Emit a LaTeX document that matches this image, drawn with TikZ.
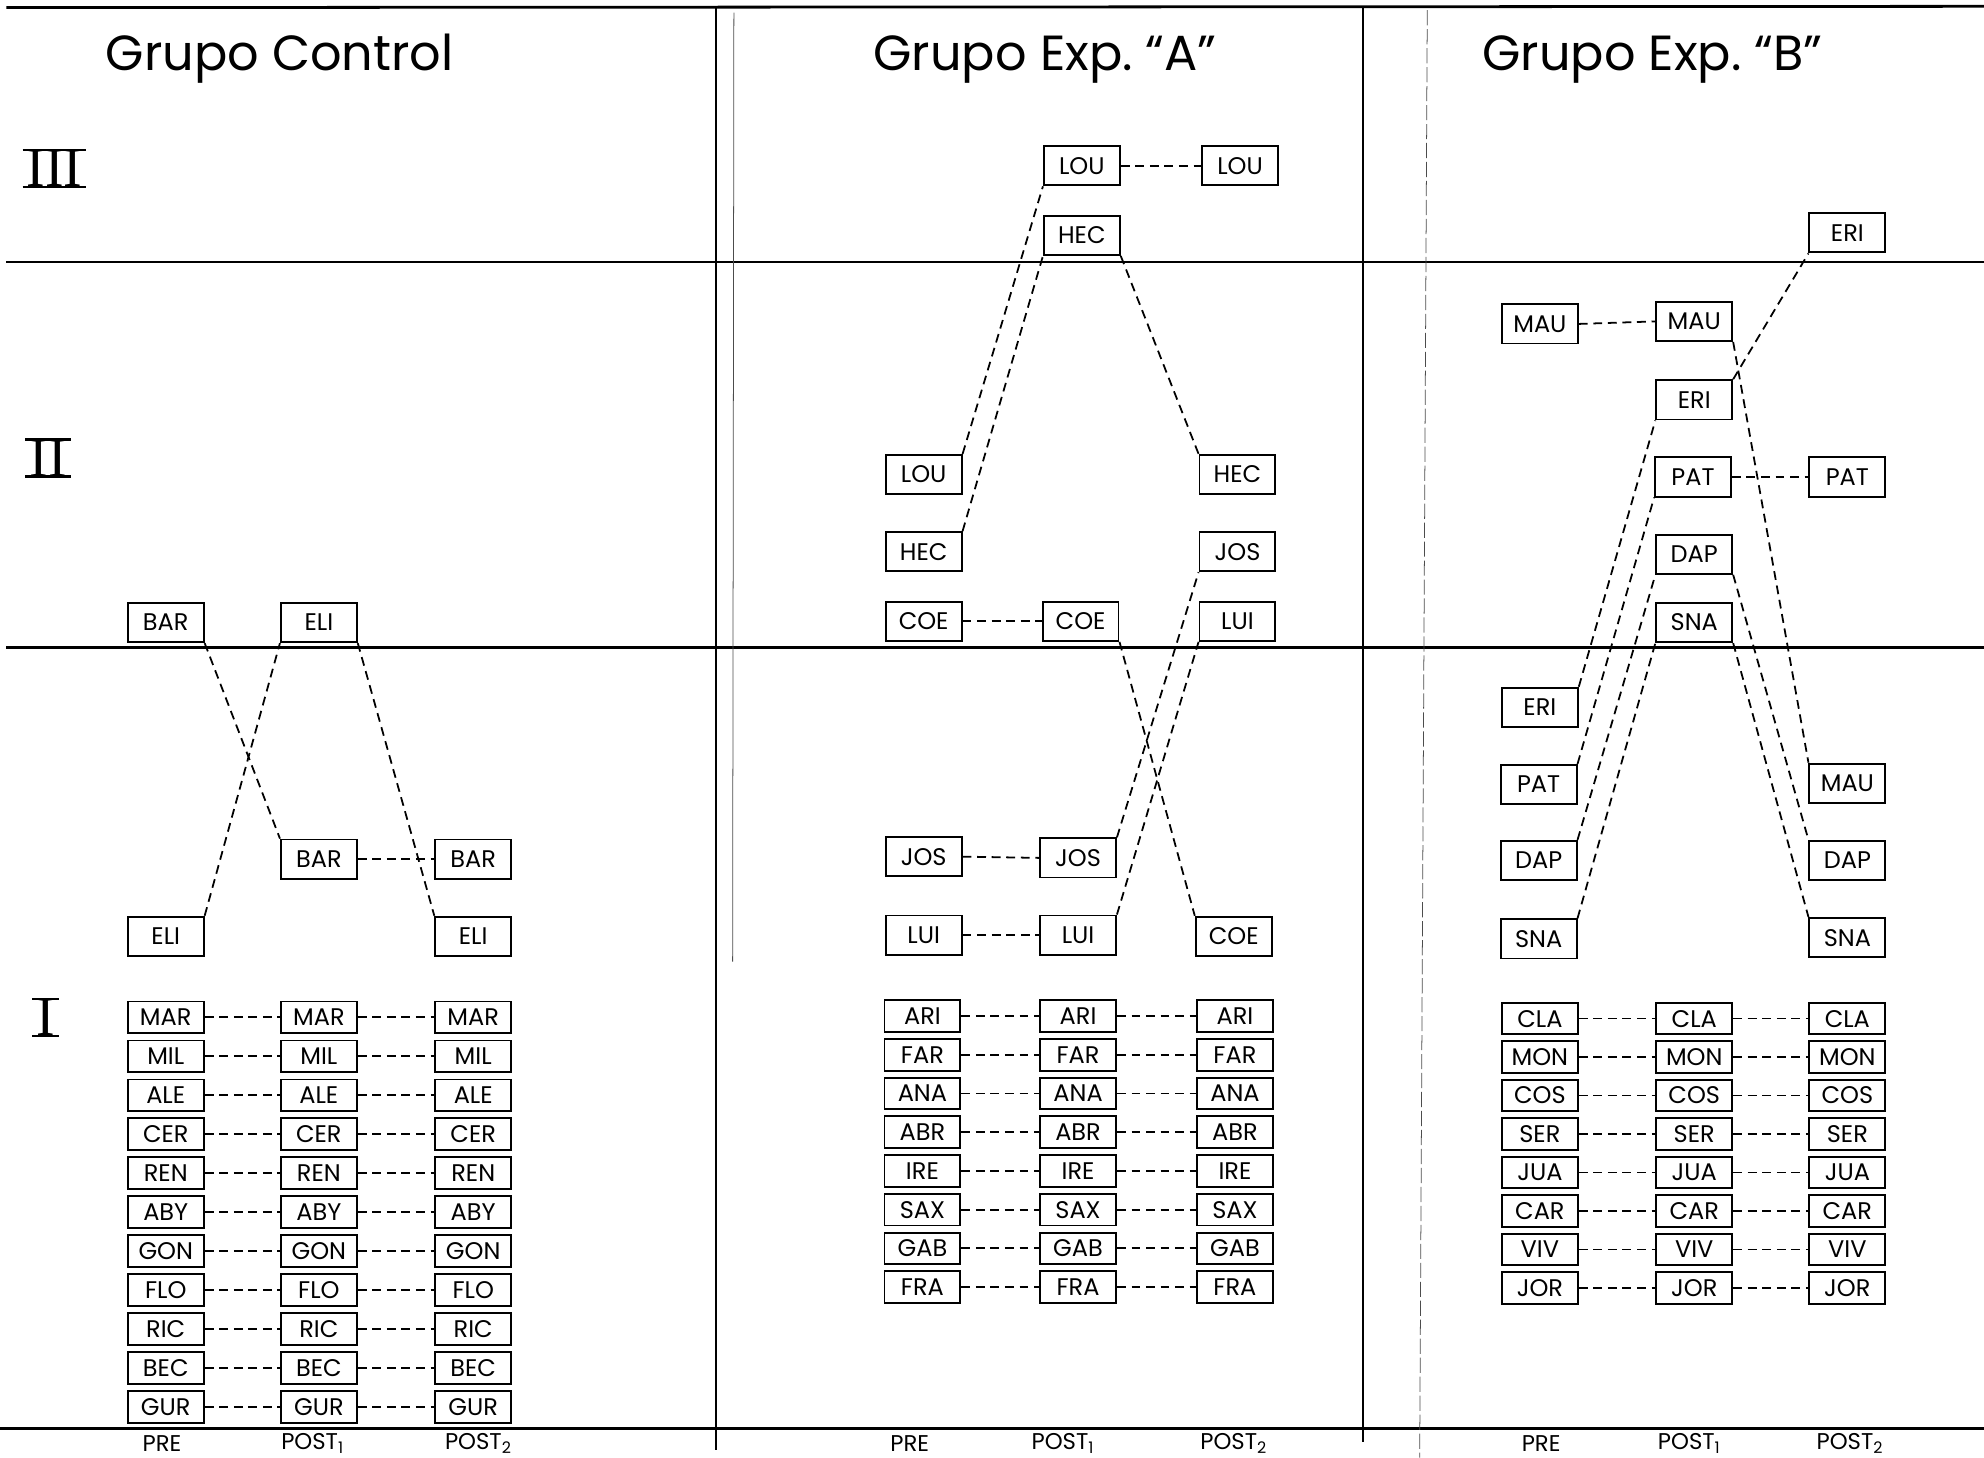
\documentclass[tikz,border=0pt]{standalone}
\usepackage{fontspec}
\setmainfont{Poppins}
\newfontfamily\numfont{Liberation Serif}
\begin{document}
\begin{tikzpicture}[x=1pt,y=-1pt,
  bx/.style={draw, line width=1.5pt, minimum width=60pt, minimum height=31pt, inner sep=0pt, font=\fontsize{19}{19}\selectfont},
  lbx/.style={bx, minimum height=25pt},
  con/.style={line width=1.4pt, dash pattern=on 7pt off 4.5pt},
  rulebold/.style={line width=2.2pt},
  rulethin/.style={line width=0.6pt, black!70},
  title/.style={font=\fontsize{39}{39}\selectfont, anchor=base},
  colhead/.style={font=\fontsize{18}{18}\selectfont},
  roman/.style={font=\numfont\fontsize{44}{44}\selectfont, inner sep=0pt, text depth=0pt}]
\useasboundingbox (0,0) rectangle (1568,1152);

% frame lines
\draw[rulebold] (5,6) -- (1568,5);
\draw[rulebold] (5,207) -- (1568,207);
\draw[rulebold] (5,512) -- (1568,512);
\draw[rulebold] (0,1129) -- (1568,1129);
\draw[line width=1.6pt] (566,6) -- (566,1146);
\draw[line width=1.6pt] (1077,5) -- (1077,1140);
\draw[rulethin] (580,10) -- (579,760);
\draw[rulethin, dash pattern=on 12pt off 3pt] (1128,8) -- (1122,1152);

% titles
\node[title] (t1) at (221,56) {Grupo Control};
\node[title] (t2) at (826,56) {Grupo Exp.~``A''};
\node[title] (t3) at (1306,56) {Grupo Exp.~``B''};

% roman numerals
\node[roman] (r3) at (43,133) {III};
\node[roman] (r2) at (38,362) {II};
\node[roman] (r1) at (36,804) {I};
\foreach \r in {r3,r2,r1} {
  \draw[line width=2pt] ([xshift=-3pt]\r.north west) -- ([xshift=3pt]\r.north east);
  \draw[line width=2pt] ([xshift=-3pt]\r.south west) -- ([xshift=3pt]\r.south east);
}

% column headings
\foreach \g/\a/\b/\c in {c/128/247/378, a/719/840/975, b/1218/1335/1462} {
  \node[colhead] (\g hpre) at (\a,1141) {PRE};
  \node[colhead] (\g hp1) at (\b,1141) {POST\textsubscript{1}};
  \node[colhead] (\g hp2) at (\c,1141) {POST\textsubscript{2}};
}

% ---------- Grupo Control ----------
\node[bx] (cBARpre) at (131,492) {BAR};
\node[bx] (cELIp1)  at (252,492) {ELI};
\node[bx] (cBARp1)  at (252,679) {BAR};
\node[bx] (cBARp2)  at (374,679) {BAR};
\node[bx] (cELIpre) at (131,740) {ELI};
\node[bx] (cELIp2)  at (374,740) {ELI};
\draw[con] (cBARpre.south east) -- (cBARp1.north west);
\draw[con] (cELIpre.north east) -- (cELIp1.south west);
\draw[con] (cELIp1.south east) -- (cELIp2.north west);
\draw[con] (cBARp1.east) -- (cBARp2.west);

\foreach \n [count=\i] in {MAR,MIL,ALE,CER,REN,ABY,GON,FLO,RIC,BEC,GUR} {
  \pgfmathsetmacro{\yy}{804+30.8*(\i-1)}
  \node[lbx] (c\n pre) at (131,\yy) {\n};
  \node[lbx] (c\n p1) at (252,\yy) {\n};
  \node[lbx] (c\n p2) at (374,\yy) {\n};
  \draw[con] (c\n pre.east) -- (c\n p1.west);
  \draw[con] (c\n p1.east) -- (c\n p2.west);
}

% ---------- Grupo Exp. A ----------
\node[bx] (aLOUp1)  at (855,131) {LOU};
\node[bx] (aLOUp2)  at (980,131) {LOU};
\node[bx] (aHECp1)  at (855,186) {HEC};
\node[bx] (aLOUpre) at (730,375) {LOU};
\node[bx] (aHECp2)  at (978,375) {HEC};
\node[bx] (aHECpre) at (730,436) {HEC};
\node[bx] (aJOSp2)  at (978,436) {JOS};
\node[bx] (aCOEpre) at (730,491) {COE};
\node[bx] (aCOEp1)  at (854,491) {COE};
\node[bx] (aLUIp2)  at (978,491) {LUI};
\node[bx] (aJOSpre) at (730,677) {JOS};
\node[bx] (aJOSp1)  at (852,678) {JOS};
\node[bx] (aLUIpre) at (730,739) {LUI};
\node[bx] (aLUIp1)  at (852,739) {LUI};
\node[bx] (aCOEp2)  at (975,740) {COE};
\draw[con] (aLOUpre.north east) -- (aLOUp1.south west);
\draw[con] (aHECpre.north east) -- (aHECp1.south west);
\draw[con] (aHECp1.south east) -- (aHECp2.north west);
\draw[con] (aLOUp1.east) -- (aLOUp2.west);
\draw[con] (aCOEpre.east) -- (aCOEp1.west);
\draw[con] (aCOEp1.south east) -- (aCOEp2.north west);
\draw[con] (aJOSpre.east) -- (aJOSp1.west);
\draw[con] (aJOSp1.north east) -- (aJOSp2.south west);
\draw[con] (aLUIpre.east) -- (aLUIp1.west);
\draw[con] (aLUIp1.north east) -- (aLUIp2.south west);

\foreach \n [count=\i] in {ARI,FAR,ANA,ABR,IRE,SAX,GAB,FRA} {
  \pgfmathsetmacro{\yy}{803+30.6*(\i-1)}
  \node[lbx] (a\n pre) at (729,\yy) {\n};
  \node[lbx] (a\n p1) at (852,\yy) {\n};
  \node[lbx] (a\n p2) at (976,\yy) {\n};
  \draw[con] (a\n pre.east) -- (a\n p1.west);
  \draw[con] (a\n p1.east) -- (a\n p2.west);
}

% ---------- Grupo Exp. B ----------
\node[bx] (bERIp2)  at (1460,184) {ERI};
\node[bx] (bMAUpre) at (1217,256) {MAU};
\node[bx] (bMAUp1)  at (1339,254) {MAU};
\node[bx] (bERIp1)  at (1339,316) {ERI};
\node[bx] (bPATp1)  at (1338,377) {PAT};
\node[bx] (bPATp2)  at (1460,377) {PAT};
\node[bx] (bDAPp1)  at (1339,438) {DAP};
\node[bx] (bSNAp1)  at (1339,492) {SNA};
\node[bx] (bERIpre) at (1217,559) {ERI};
\node[bx] (bPATpre) at (1216,620) {PAT};
\node[bx] (bMAUp2)  at (1460,619) {MAU};
\node[bx] (bDAPpre) at (1216,680) {DAP};
\node[bx] (bDAPp2)  at (1460,680) {DAP};
\node[bx] (bSNApre) at (1216,742) {SNA};
\node[bx] (bSNAp2)  at (1460,741) {SNA};
\draw[con] (bMAUpre.east) -- (bMAUp1.west);
\draw[con] (bMAUp1.south east) -- (bMAUp2.north west);
\draw[con] (bERIpre.north east) -- (bERIp1.south west);
\draw[con] (bERIp1.north east) -- (bERIp2.south west);
\draw[con] (bPATpre.north east) -- (bPATp1.south west);
\draw[con] (bPATp1.east) -- (bPATp2.west);
\draw[con] (bDAPpre.north east) -- (bDAPp1.south west);
\draw[con] (bDAPp1.south east) -- (bDAPp2.north west);
\draw[con] (bSNApre.north east) -- (bSNAp1.south west);
\draw[con] (bSNAp1.south east) -- (bSNAp2.north west);

\foreach \n [count=\i] in {CLA,MON,COS,SER,JUA,CAR,VIV,JOR} {
  \pgfmathsetmacro{\yy}{805+30.4*(\i-1)}
  \node[lbx] (b\n pre) at (1217,\yy) {\n};
  \node[lbx] (b\n p1) at (1339,\yy) {\n};
  \node[lbx] (b\n p2) at (1460,\yy) {\n};
  \draw[con] (b\n pre.east) -- (b\n p1.west);
  \draw[con] (b\n p1.east) -- (b\n p2.west);
}
\end{tikzpicture}
\end{document}
